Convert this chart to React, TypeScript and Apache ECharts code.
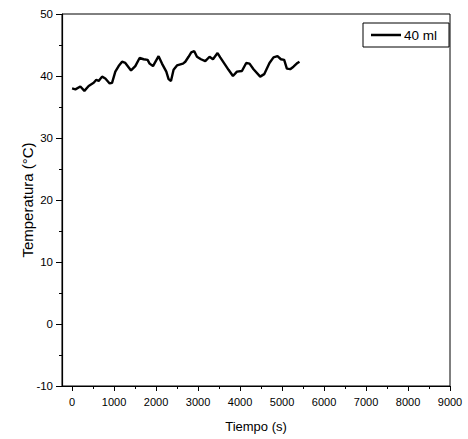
import React, { useEffect, useRef } from "react";
import * as echarts from "echarts";

const timeS = [0, 79, 197, 293, 395, 514, 578, 633, 714, 792, 895, 952, 1030, 1109, 1190, 1268, 1404, 1506, 1608, 1704, 1799, 1846, 1927, 2060, 2141, 2244, 2298, 2355, 2417, 2498, 2641, 2696, 2774, 2838, 2910, 2974, 3069, 3172, 3274, 3355, 3464, 3528, 3647, 3726, 3831, 3926, 4045, 4147, 4226, 4321, 4480, 4575, 4701, 4797, 4892, 4973, 5051, 5115, 5194, 5272, 5368, 5415];
const tempC = [38.0, 37.85, 38.3, 37.6, 38.4, 38.9, 39.4, 39.2, 39.9, 39.6, 38.8, 38.9, 40.7, 41.6, 42.3, 42.1, 40.9, 41.6, 42.9, 42.7, 42.6, 42.0, 41.6, 43.2, 42.0, 40.7, 39.5, 39.2, 41.0, 41.7, 42.0, 42.3, 43.1, 43.8, 44.0, 43.1, 42.7, 42.4, 43.1, 42.7, 43.7, 43.0, 41.8, 41.0, 40.0, 40.7, 40.8, 42.1, 42.0, 41.1, 39.9, 40.3, 42.1, 43.0, 43.2, 42.7, 42.6, 41.2, 41.1, 41.5, 42.1, 42.3];
const xMajorTicks = [0, 1000, 2000, 3000, 4000, 5000, 6000, 7000, 8000, 9000];
const xMinorTicks = [500, 1500, 2500, 3500, 4500, 5500, 6500, 7500, 8500];
const seriesName = "40 ml";

export default function App() {
  const ref = useRef<HTMLDivElement>(null);
  useEffect(() => {
    const chart = echarts.init(ref.current!, null, { renderer: "svg" });
    const font = "'Liberation Sans', Arial, sans-serif";
    chart.setOption({
      animation: false,
      backgroundColor: "#fff",
      grid: { left: 62, top: 14, right: 18, bottom: 53, show: true, borderColor: "#000", borderWidth: 1 },
      legend: {
        left: 363,
        top: 23,
        padding: [5, 12, 5, 8],
        borderColor: "#000",
        borderWidth: 1,
        itemWidth: 30,
        itemHeight: 14,
        itemGap: 3,
        textStyle: { fontFamily: font, fontSize: 13.5, color: "#000", padding: [0, 0, 0, -2] },
        data: [{ name: seriesName, icon: "path://M0,6 L30,6 L30,8.5 L0,8.5 Z" }],
      },
      xAxis: [
        {
          type: "value",
          min: -240,
          max: 9000,
          name: "Tiempo (s)",
          nameLocation: "middle",
          nameGap: 34,
          nameMoveOverlap: false,
          nameTextStyle: { fontFamily: font, fontSize: 13, color: "#000" },
          axisLine: { show: true, onZero: false, lineStyle: { color: "#000", width: 1.2 } },
          axisTick: { show: true, length: 5, customValues: xMajorTicks, lineStyle: { color: "#000" } },
          axisLabel: {
            customValues: xMajorTicks,
            formatter: (v: number) => String(v),
            fontFamily: font,
            fontSize: 11,
            color: "#000",
            margin: 10,
          },
          splitLine: { show: false },
        },
        {
          type: "value",
          min: -240,
          max: 9000,
          position: "bottom",
          axisLine: { show: false, onZero: false },
          axisTick: { show: true, length: 3, customValues: xMinorTicks, lineStyle: { color: "#000" } },
          axisLabel: { show: false },
          splitLine: { show: false },
        },
      ],
      yAxis: {
        type: "value",
        min: -10,
        max: 50,
        interval: 10,
        name: "Temperatura (°C)",
        nameLocation: "middle",
        nameGap: 27,
        nameMoveOverlap: false,
        nameTextStyle: { fontFamily: font, fontSize: 15, color: "#000" },
        axisLine: { show: true, onZero: false, lineStyle: { color: "#000", width: 1.2 } },
        axisTick: { show: true, length: 6, lineStyle: { color: "#000" } },
        minorTick: { show: true, splitNumber: 2, length: 3, lineStyle: { color: "#000" } },
        axisLabel: { fontFamily: font, fontSize: 11.5, color: "#000", margin: 9 },
        splitLine: { show: false },
      },
      series: [
        {
          name: seriesName,
          type: "line",
          xAxisIndex: 0,
          data: timeS.map((t, i) => [t, tempC[i]]),
          symbol: "none",
          lineStyle: { color: "#000", width: 2.4 },
          itemStyle: { color: "#000" },
        },
      ],
    });
    return () => chart.dispose();
  }, []);
  return <div ref={ref} style={{ position: "fixed", left: 0, top: 0, width: 468, height: 439 }} />;
}
